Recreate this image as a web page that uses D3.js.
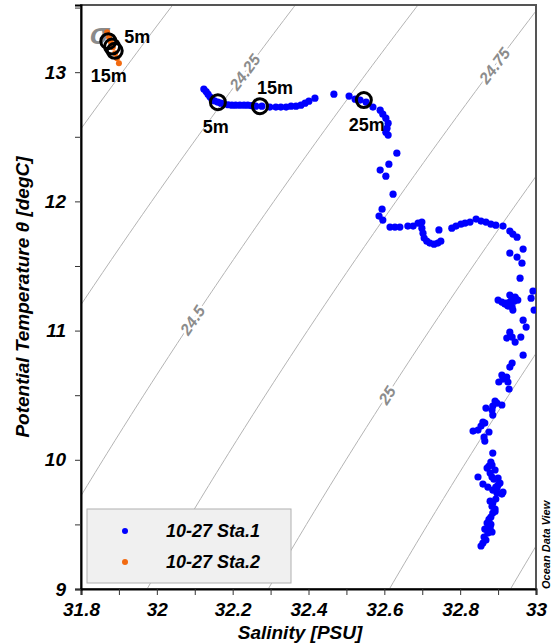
<!DOCTYPE html>
<html><head><meta charset="utf-8">
<script src="https://cdn.jsdelivr.net/npm/d3@7/dist/d3.min.js"></script>
<style>
body{margin:0;background:#fff;}
text{font-family:"Liberation Sans",Arial,sans-serif;font-weight:bold;font-style:italic;}
</style></head>
<body><svg id="chart" width="551" height="644"></svg>
<script>
// ---------- DATA ----------
const xTicks = [31.8, 32, 32.2, 32.4, 32.6, 32.8, 33];
const yTicks = [9, 10, 11, 12, 13];
const xMinorTicks = [31.9, 32.1, 32.3, 32.5, 32.7, 32.9];
const yMinorTicks = [9.5, 10.5, 11.5, 12.5, 13.5];
const sigmaLevels = [23.75, 24, 24.25, 24.5, 24.75, 25, 25.25, 25.5];
const sigmaLabelLevels = [24.25, 24.75, 24.5, 25];
const sigmaLabelTexts = ["24.25", "24.75", "24.5", "25"];
const sigmaLabelTheta = [13.0, 13.05, 11.08, 10.50];

const seriesNames = ["10-27 Sta.1", "10-27 Sta.2"];
const seriesColors = ["#0000ff", "#f26a10"];

// Sta.1 salinity / potential temperature
const sal1 = [32.124,32.130,32.135,32.140,32.145,32.152,32.161,32.169,32.177,32.188,32.198,32.208,32.219,32.230,32.240,32.250,32.261,32.277,32.298,32.314,32.327,32.341,32.354,32.367,32.380,32.391,32.401,32.417,
32.467,32.507,32.523,32.536,32.552,32.570,32.589,32.596,32.604,32.610,32.607,32.604,32.610,32.633,32.612,32.589,32.604,32.623,32.594,32.586,32.596,
32.615,32.628,32.641,32.662,32.676,32.689,32.699,32.699,32.702,32.705,32.712,32.720,32.731,32.741,32.749,32.744,32.778,32.789,32.802,32.813,32.826,32.842,32.855,32.868,32.881,32.894,32.913,
32.931,32.939,32.950,32.966,32.931,32.950,32.963,32.958,32.992,32.987,32.995,
32.900,32.910,32.918,32.926,32.931,32.937,32.945,32.952,32.937,32.939,32.931,32.942,32.921,32.947,
32.966,32.974,32.931,32.923,32.937,32.945,32.960,32.966,32.937,32.931,32.910,32.923,32.902,32.926,32.929,32.913,
32.892,32.897,32.886,32.884,32.910,32.868,32.886,32.865,32.860,32.834,32.847,32.876,32.863,32.865,32.886,32.855,
32.881,32.876,32.871,32.847,32.879,32.884,32.900,32.905,32.860,32.873,32.886,32.897,32.910,32.894,32.886,32.892,32.886,32.881,32.871,32.879,32.865,32.884,32.873,32.863,32.868,32.860,32.855,
32.900,32.913,32.894,32.892,32.884,32.889,32.879,32.897,32.884,32.876,32.892,32.881];
const theta1 = [12.869,12.850,12.830,12.810,12.791,12.778,12.768,12.760,12.753,12.748,12.745,12.745,12.745,12.745,12.745,12.741,12.737,12.737,12.730,12.730,12.730,12.730,12.737,12.737,12.745,12.760,12.776,12.799,
12.830,12.815,12.791,12.784,12.768,12.730,12.706,12.675,12.644,12.605,12.567,12.536,12.513,12.373,12.288,12.242,12.195,12.056,11.940,11.886,11.855,
11.801,11.801,11.801,11.809,11.809,11.832,11.840,11.793,11.754,11.716,11.692,11.677,11.669,11.677,11.692,11.779,11.793,11.809,11.824,11.832,11.840,11.863,11.848,11.840,11.824,11.816,11.809,
11.770,11.747,11.723,11.631,11.600,11.569,11.522,11.406,11.306,11.251,11.159,
11.236,11.221,11.205,11.190,11.275,11.251,11.259,11.236,11.182,11.159,11.221,11.228,11.213,11.244,
11.081,11.027,10.988,10.942,10.950,10.911,10.950,10.810,10.749,10.718,10.656,10.640,10.602,10.602,10.547,10.625,
10.455,10.439,10.416,10.385,10.424,10.400,10.346,10.284,10.292,10.222,10.230,10.215,10.176,10.145,10.052,10.261,
9.983,9.952,9.936,9.867,9.897,9.867,9.859,9.820,9.812,9.789,9.766,9.743,9.735,9.696,9.665,9.619,9.588,9.557,9.511,9.472,9.464,9.441,9.433,9.402,9.379,9.356,9.333,
9.805,9.750,9.789,9.921,9.959,9.850,9.680,9.780,9.640,9.540,9.600,9.500];

// Sta.2
const sal2 = [31.869,31.874,31.879,31.884,31.890,31.895,31.900];
const theta2 = [13.310,13.271,13.232,13.193,13.147,13.108,13.070];

// Highlighted depths (circles)
const markSal = [31.872,31.882,31.889, 32.161,32.272,32.546];
const markTheta = [13.240,13.198,13.165, 12.768,12.737,12.784];
const markLabel = ["5m","","15m", "5m","15m","25m"];

// ---------- CHART ----------
const svg = d3.select("#chart");
const L = 81, R = 536, T = 5, B = 589;
const x = d3.scaleLinear().domain([31.8, 33]).range([L, R]);
const y = d3.scaleLinear().domain([9, 13.52]).range([B, T]);
const FONT = '"Liberation Sans",Arial,sans-serif';

svg.append("defs").append("clipPath").attr("id","clip")
  .append("rect").attr("x",L).attr("y",T).attr("width",R-L).attr("height",B-T);

// UNESCO EOS-80 at p=0
function sigma(S, t){
  const rw = 999.842594 + 6.793952e-2*t - 9.095290e-3*t*t + 1.001685e-4*t**3 - 1.120083e-6*t**4 + 6.536332e-9*t**5;
  const A = 8.24493e-1 - 4.0899e-3*t + 7.6438e-5*t*t - 8.2467e-7*t**3 + 5.3875e-9*t**4;
  const Bc = -5.72466e-3 + 1.0227e-4*t - 1.6546e-6*t*t;
  const C = 4.8314e-4;
  return rw + A*S + Bc*Math.pow(S,1.5) + C*S*S - 1000;
}
function salFor(level, t){
  let lo = 28, hi = 38;
  for(let i=0;i<60;i++){const m=(lo+hi)/2; if(sigma(m,t)<level) lo=m; else hi=m;}
  return (lo+hi)/2;
}
const gIso = svg.append("g").attr("clip-path","url(#clip)");
const line = d3.line().x(d=>x(d[0])).y(d=>y(d[1]));
sigmaLevels.forEach(lv=>{
  const pts = d3.range(8.8, 13.8, 0.05).map(t=>[salFor(lv,t), t]);
  gIso.append("path").attr("d", line(pts)).attr("fill","none")
    .attr("stroke","#b4b4b4").attr("stroke-width",1);
});
sigmaLabelLevels.forEach((lv,i)=>{
  const t = sigmaLabelTheta[i], s = salFor(lv,t);
  const s2 = salFor(lv, t+0.05);
  const ang = Math.atan2(y(t+0.05)-y(t), x(s2)-x(s))*180/Math.PI;
  svg.append("text").attr("transform",`translate(${x(s)},${y(t)}) rotate(${ang})`)
    .attr("text-anchor","middle").attr("dy","0.35em")
    .attr("font-size",16).attr("fill","#8c8c8c")
    .attr("stroke","#fff").attr("stroke-width",5).attr("paint-order","stroke")
    .text(sigmaLabelTexts[i]);
});

// sigma symbol label
svg.append("text").attr("x",90).attr("y",44).attr("font-size",29).attr("fill","#8a8a8a").text("σ");

// frame
svg.append("rect").attr("x",L).attr("y",T).attr("width",R-L).attr("height",B-T)
  .attr("fill","none").attr("stroke","#555").attr("stroke-width",2);

// data points
const gPts = svg.append("g").attr("clip-path","url(#clip)");
gPts.selectAll("circle.s1").data(d3.range(sal1.length)).join("circle")
  .attr("cx",i=>x(sal1[i])).attr("cy",i=>y(theta1[i])).attr("r",3.6).attr("fill",seriesColors[0]);
gPts.selectAll("circle.s2").data(d3.range(sal2.length)).join("circle")
  .attr("cx",i=>x(sal2[i])).attr("cy",i=>y(theta2[i])).attr("r",3).attr("fill",seriesColors[1]);

// depth circles
svg.selectAll("circle.mk").data(d3.range(markSal.length)).join("circle")
  .attr("cx",i=>x(markSal[i])).attr("cy",i=>y(markTheta[i])).attr("r",7.5)
  .attr("fill","none").attr("stroke","#000").attr("stroke-width",3);
const labOff = [[16,-4],[0,0],[-6,25],[-2,25],[15,-18],[3,25]];
const labAnchor = ["start","start","middle","middle","middle","middle"];
markLabel.forEach((lb,i)=>{
  if(!lb) return;
  svg.append("text").attr("x",x(markSal[i])+labOff[i][0]).attr("y",y(markTheta[i])+labOff[i][1])
    .attr("dy","0.35em").attr("text-anchor",labAnchor[i]).attr("font-size",18)
    .style("font-style","normal").attr("fill","#000").text(lb);
});

// axes
const xAxis = d3.axisBottom(x).tickValues(xTicks).tickFormat(d3.format("")).tickSize(6).tickPadding(8);
const gx = svg.append("g").attr("transform",`translate(0,${B})`).call(xAxis);
gx.select(".domain").attr("stroke","#000").attr("stroke-width",2);
gx.selectAll(".tick line").attr("stroke","#333");
gx.selectAll("text").attr("font-size",19).attr("fill","#000").attr("font-family",FONT);
svg.append("g").attr("transform",`translate(0,${B})`)
  .call(d3.axisBottom(x).tickValues(xMinorTicks).tickFormat("").tickSize(6))
  .call(g=>g.select(".domain").remove()).selectAll("line").attr("stroke","#333");

const yAxis = d3.axisLeft(y).tickValues(yTicks).tickFormat(d3.format("")).tickSize(6).tickPadding(9);
const gy = svg.append("g").attr("transform",`translate(${L},0)`).call(yAxis);
gy.select(".domain").attr("stroke","#000").attr("stroke-width",2);
gy.selectAll(".tick line").attr("stroke","#333");
gy.selectAll("text").attr("font-size",19).attr("fill","#000").attr("font-family",FONT);
svg.append("g").attr("transform",`translate(${L},0)`)
  .call(d3.axisLeft(y).tickValues(yMinorTicks.filter(v=>v<=13.52)).tickFormat("").tickSize(6))
  .call(g=>g.select(".domain").remove()).selectAll("line").attr("stroke","#333");

// axis titles
svg.append("text").attr("x",300).attr("y",639).attr("text-anchor","middle")
  .attr("font-size",19).attr("fill","#000").text("Salinity [PSU]");
svg.append("text").attr("transform",`translate(29,${(T+B)/2}) rotate(-90)`).attr("text-anchor","middle")
  .attr("font-size",19).attr("fill","#000").text("Potential Temperature θ [degC]");
svg.append("text").attr("transform",`translate(550,${B}) rotate(-90)`).attr("text-anchor","start")
  .attr("font-size",11).attr("fill","#000").text("Ocean Data View");

// legend
svg.append("rect").attr("x",87).attr("y",509).attr("width",204).attr("height",74)
  .attr("fill","#f0f0f0").attr("stroke","#b0b0b0").attr("stroke-width",1);
seriesNames.forEach((nm,i)=>{
  const cy = 531 + i*31;
  svg.append("circle").attr("cx",125).attr("cy",cy).attr("r",3).attr("fill",seriesColors[i]);
  svg.append("text").attr("x",166).attr("y",cy).attr("dy","0.35em").attr("font-size",18)
    .attr("fill","#000").text(nm);
});
</script></body></html>
